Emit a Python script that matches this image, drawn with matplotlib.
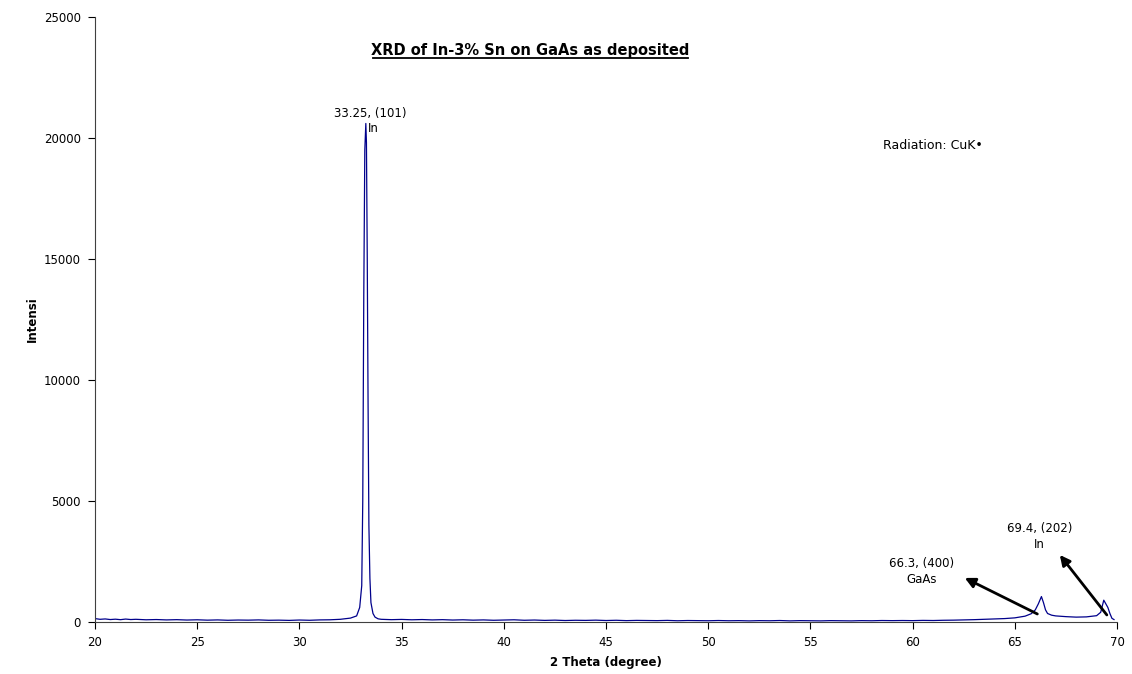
import matplotlib
matplotlib.use("Agg")
import matplotlib.pyplot as plt

plt.rcParams["font.family"] = ["DejaVu Sans"]

# XRD scan: 2 theta (degree) vs intensity
two_theta = [
    20.0, 20.25, 20.5, 20.75, 21.0, 21.25, 21.5, 21.75, 22.0, 22.5, 23.0, 23.5,
    24.0, 24.5, 25.0, 25.5, 26.0, 26.5, 27.0, 27.5, 28.0, 28.5, 29.0, 29.5,
    30.0, 30.5, 31.0, 31.5, 32.0, 32.5, 32.8, 32.95, 33.05, 33.1, 33.15, 33.2,
    33.25, 33.28, 33.32, 33.36, 33.4, 33.45, 33.5, 33.6, 33.7, 33.85, 34.0,
    34.5, 35.0, 35.5, 36.0, 36.5, 37.0, 37.5, 38.0, 38.5, 39.0, 39.5, 40.0,
    40.5, 41.0, 41.5, 42.0, 42.5, 43.0, 43.5, 44.0, 44.5, 45.0, 45.5, 46.0,
    46.5, 47.0, 47.5, 48.0, 48.5, 49.0, 49.5, 50.0, 50.5, 51.0, 51.5, 52.0,
    52.5, 53.0, 53.5, 54.0, 54.5, 55.0, 55.5, 56.0, 56.5, 57.0, 57.5, 58.0,
    58.5, 59.0, 59.5, 60.0, 60.5, 61.0, 61.5, 62.0, 62.5, 63.0, 63.5, 64.0,
    64.5, 65.0, 65.5, 65.8, 66.0, 66.15, 66.3, 66.4, 66.5, 66.6, 66.8, 67.0,
    67.5, 68.0, 68.5, 69.0, 69.2, 69.35, 69.45, 69.55, 69.65, 69.75, 69.85,
]
intensity = [
    140, 110, 125, 100, 115, 95, 120, 100, 110, 90, 100, 85,
    95, 80, 90, 75, 85, 70, 80, 75, 85, 70, 75, 65,
    80, 70, 85, 90, 110, 160, 250, 600, 1500, 5000, 13500, 19500,
    20600, 19800, 15000, 9000, 4000, 1800, 800, 350, 200, 130, 110,
    95, 105, 90, 100, 85, 95, 80, 90, 75, 85, 70, 80,
    90, 70, 80, 65, 75, 60, 70, 65, 75, 60, 70, 55,
    65, 60, 55, 65, 50, 60, 55, 50, 60, 50, 55, 45,
    55, 50, 60, 45, 55, 50, 45, 55, 50, 45, 55, 50,
    60, 55, 60, 55, 65, 60, 70, 75, 85, 95, 110, 125,
    140, 170, 240, 340, 500, 750, 1050, 800, 500, 350, 280, 250,
    220, 200, 210, 260, 400, 900, 750, 600, 350, 150, 100,
]

title = "XRD of In-3% Sn on GaAs as deposited"

fig = plt.figure(figsize=(11.32, 6.74), dpi=100)
ax = fig.add_axes([0.0839, 0.0772, 0.9029, 0.8976])

ax.plot(two_theta, intensity, color="#00008B", linewidth=0.9)

ax.set_xlim(20, 70)
ax.set_ylim(0, 25000)
ax.set_xticks(range(20, 71, 5))
ax.set_yticks(range(0, 25001, 5000))
ax.tick_params(direction="out", length=5, width=0.8, labelsize=8.5,
               colors="black", pad=5)
ax.spines["top"].set_visible(False)
ax.spines["right"].set_visible(False)
ax.spines["left"].set_color("#404040")
ax.spines["bottom"].set_color("#404040")

ax.set_xlabel("2 Theta (degree)", fontsize=8.5, fontweight="bold", labelpad=5)
ax.set_ylabel("Intensi", fontsize=8.5, fontweight="bold", labelpad=4)

# 标题 + 下划线
ax.text(41.3, 23620, title, fontsize=10.5, fontweight="bold", ha="center",
        va="center")
ax.plot([33.6, 49.0], [23300, 23300], color="black", linewidth=1.3,
        clip_on=False)

ax.text(33.45, 21000, "33.25, (101)", fontsize=8.5, ha="center", va="center")
ax.text(33.35, 20380, "In", fontsize=8.5, ha="left", va="center")

ax.text(58.55, 19700, "Radiation: CuK\u2022", fontsize=9, ha="left",
        va="center")

ax.text(60.45, 2420, "66.3, (400)", fontsize=8.5, ha="center", va="center")
ax.text(60.45, 1750, "GaAs", fontsize=8.5, ha="center", va="center")
ax.text(66.2, 3850, "69.4, (202)", fontsize=8.5, ha="center", va="center")
ax.text(66.2, 3200, "In", fontsize=8.5, ha="center", va="center")

arrow = dict(arrowstyle="-|>,head_length=0.6,head_width=0.3", color="black",
             linewidth=2, shrinkA=0, shrinkB=0)
ax.annotate("", xy=(62.55, 1820), xytext=(66.1, 330), arrowprops=arrow)
ax.annotate("", xy=(67.2, 2770), xytext=(69.5, 290), arrowprops=arrow)

fig.savefig("out.png", dpi=100)
